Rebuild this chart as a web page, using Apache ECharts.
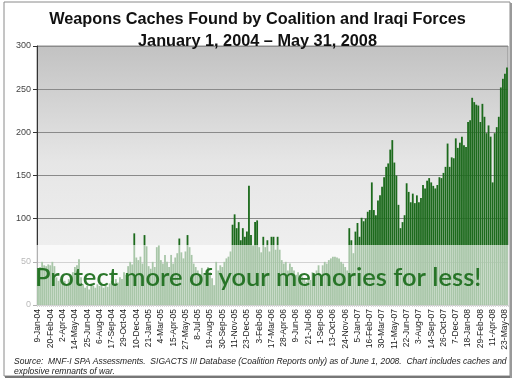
<!DOCTYPE html>
<html>
<head>
<meta charset="utf-8">
<script src="https://cdn.jsdelivr.net/npm/echarts@6/dist/echarts.min.js"></script>
<style>
html,body{margin:0;padding:0;background:#fff;}
#chart{width:515px;height:381px;}
</style>
</head>
<body>
<div id="chart"></div>
<script>
// Weekly counts of weapons caches found (week ending Friday)
const weeks2004 = [42,44,50,46,45,47,46,50,45,32,28,30,26,28,24,30,32,38,44,46,53,32,24,20,22,18,25,22,20,24,22,26,20,24,21,25,28,22,30,26,32,30,38,35,45,50,47,83,55,52,56,48];
const weeks2005 = [81,68,45,42,50,44,67,69,52,48,58,50,44,58,48,55,60,77,61,54,62,81,67,58,48,44,40,35,43,37,40,44,38,31,23,50,40,46,44,50,54,56,62,93,105,89,96,75,89,79,85,138];
const weeks2006 = [81,69,96,98,67,61,79,67,75,62,79,79,64,79,64,52,48,50,40,48,44,40,35,38,29,33,30,27,33,29,38,35,40,46,35,46,50,48,52,54,56,56,55,54,50,48,44,40,89,75,60,85];
const weeks2007 = [95,79,101,97,100,108,110,142,110,104,121,127,137,148,160,164,180,191,165,150,116,89,96,104,141,131,119,129,118,127,119,124,139,135,144,147,142,138,135,139,148,147,153,160,187,160,171,170,193,182,188,195];
const weeks2008 = [185,183,212,214,240,235,232,231,212,233,218,199,208,195,142,199,206,218,252,262,268,275];

const firstWeek = {year: 2004, month: 0, day: 9}; // 9-Jan-04
const monthNames = ['Jan','Feb','Mar','Apr','May','Jun','Jul','Aug','Sep','Oct','Nov','Dec'];
const yTicks = [0, 50, 100, 150, 200, 250, 300];

const titleLines = ['Weapons Caches Found by Coalition and Iraqi Forces', 'January 1, 2004 \u2013 May 31, 2008'];
const sourceLines = ['Source:  MNF-I SPA Assessments.  SIGACTS III Database (Coalition Reports only) as of June 1, 2008.  Chart includes caches and', 'explosive remnants of war.'];
const watermark = 'Protect more of your memories for less!';

const values = [].concat(weeks2004, weeks2005, weeks2006, weeks2007, weeks2008);
const categories = values.map(function (v, i) {
  const d = new Date(Date.UTC(firstWeek.year, firstWeek.month, firstWeek.day + i * 7));
  return d.getUTCDate() + '-' + monthNames[d.getUTCMonth()] + '-' + String(d.getUTCFullYear()).slice(2);
});

const chart = echarts.init(document.getElementById('chart'), null, {renderer: 'canvas'});
const plotBg = new echarts.graphic.LinearGradient(0, 0, 0, 1, [
  {offset: 0, color: '#c2c2c2'},
  {offset: 0.45, color: '#e6e6e6'},
  {offset: 1, color: '#f4f4f4'}
]);

chart.setOption({
  animation: false,
  backgroundColor: '#ffffff',
  title: {
    text: titleLines.join('\n'),
    left: 'center',
    top: 4,
    textStyle: {fontFamily: 'Liberation Sans, Arial, sans-serif', fontSize: 16.3, fontWeight: 'bold', color: '#111', lineHeight: 21.5}
  },
  grid: {
    left: 37, right: 7, top: 46, bottom: 76,
    show: true,
    backgroundColor: plotBg,
    borderColor: '#8c8c8c',
    borderWidth: 1
  },
  xAxis: {
    type: 'category',
    data: categories,
    boundaryGap: true,
    axisLine: {lineStyle: {color: '#777', width: 1}},
    axisTick: {show: true, interval: 0, length: 2, lineStyle: {color: '#999'}},
    axisLabel: {
      interval: 5,
      rotate: 90,
      margin: 4,
      fontFamily: 'Liberation Sans, Arial, sans-serif',
      fontSize: 8.5,
      color: '#222',
      hideOverlap: false
    },
    splitLine: {show: false}
  },
  yAxis: {
    type: 'value',
    min: yTicks[0],
    max: yTicks[yTicks.length - 1],
    interval: 50,
    axisLine: {show: true, lineStyle: {color: '#333', width: 1}},
    axisTick: {show: true, length: 4, lineStyle: {color: '#333'}},
    axisLabel: {fontFamily: 'Liberation Sans, Arial, sans-serif', fontSize: 9, color: '#444', margin: 6},
    splitLine: {show: true, lineStyle: {color: '#8a8a8a', width: 1}}
  },
  series: [{
    type: 'bar',
    data: values,
    barCategoryGap: '12%',
    itemStyle: {color: '#1c6a1c'},
    silent: true
  }],
  graphic: [
    {
      type: 'rect', z: 100,
      shape: {x: 4, y: 2, width: 506, height: 374},
      style: {fill: 'none', stroke: '#8a8a8a', lineWidth: 1}
    },
    {
      type: 'rect', z: 100,
      shape: {x: 5, y: 376, width: 506, height: 2},
      style: {fill: '#777'}
    },
    {
      type: 'rect', z: 100,
      shape: {x: 510, y: 3, width: 2, height: 375},
      style: {fill: '#999'}
    },
    {
      type: 'rect', z: 90,
      shape: {x: 5, y: 245, width: 505, height: 62},
      style: {fill: 'rgba(255,255,255,0.62)'}
    },
    {
      type: 'text', z: 95,
      x: 35, y: 278,
      style: {
        text: watermark,
        fill: 'rgba(32,112,32,0.95)',
        font: '600 25.5px Lato, "Open Sans", sans-serif',
        verticalAlign: 'middle'
      }
    },
    {
      type: 'text', z: 100,
      x: 14, y: 357,
      style: {
        text: sourceLines.join('\n'),
        fill: '#222',
        font: 'italic 8.5px "Liberation Sans", Arial, sans-serif',
        lineHeight: 10
      }
    }
  ]
});
</script>
</body>
</html>
